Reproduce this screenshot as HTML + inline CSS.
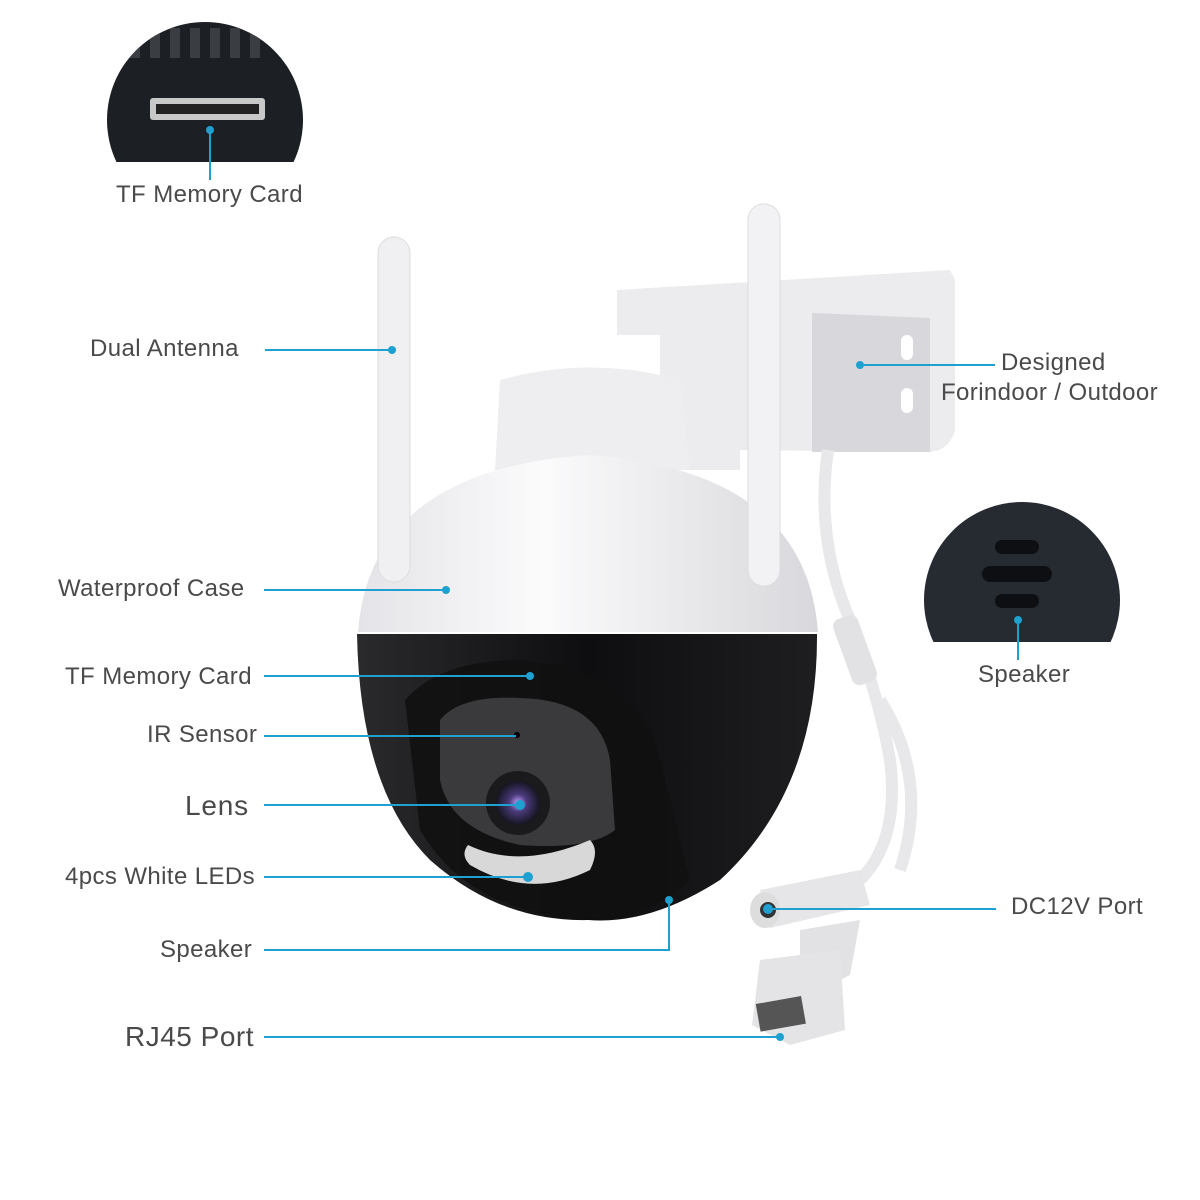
<!DOCTYPE html>
<html><head><meta charset="utf-8"><style>
html,body{margin:0;padding:0;background:#fff;}
svg{display:block}
text{font-family:"Liberation Sans",sans-serif;fill:#4a4a4a;}
</style></head><body>
<svg width="1200" height="1200" viewBox="0 0 1200 1200" xmlns="http://www.w3.org/2000/svg">
<defs>
<linearGradient id="wg" x1="0" y1="0" x2="1" y2="0"><stop offset="0" stop-color="#e4e4e8"/><stop offset="0.4" stop-color="#fbfbfc"/><stop offset="1" stop-color="#d8d8dc"/></linearGradient>
<linearGradient id="bg" x1="0" y1="0" x2="1" y2="0"><stop offset="0" stop-color="#2a2a2c"/><stop offset="0.5" stop-color="#0e0e10"/><stop offset="1" stop-color="#1e1e20"/></linearGradient>
<clipPath id="c1"><circle cx="205" cy="120" r="98"/></clipPath>
<clipPath id="c2"><circle cx="1022" cy="600" r="98"/></clipPath>
<radialGradient id="lens"><stop offset="0" stop-color="#c9a0ff"/><stop offset="0.4" stop-color="#4a3a7a"/><stop offset="1" stop-color="#151520"/></radialGradient>
</defs>
<g clip-path="url(#c1)">
<rect x="100" y="20" width="210" height="142" fill="#1c1f24"/>
<g fill="#3a3d42"><rect x="130" y="28" width="10" height="30"/><rect x="150" y="28" width="10" height="30"/><rect x="170" y="28" width="10" height="30"/><rect x="190" y="28" width="10" height="30"/><rect x="210" y="28" width="10" height="30"/><rect x="230" y="28" width="10" height="30"/><rect x="250" y="28" width="10" height="30"/></g>
<rect x="150" y="98" width="115" height="22" rx="3" fill="#c8c8c8"/>
<rect x="156" y="104" width="103" height="10" fill="#222"/>
<rect x="100" y="162" width="210" height="60" fill="#fff"/>
</g>
<g clip-path="url(#c2)">
<rect x="920" y="500" width="210" height="142" fill="#262b31"/>
<rect x="995" y="540" width="44" height="14" rx="7" fill="#0d0f12"/>
<rect x="982" y="566" width="70" height="16" rx="8" fill="#0d0f12"/>
<rect x="995" y="594" width="44" height="14" rx="7" fill="#0d0f12"/>
<rect x="920" y="642" width="210" height="60" fill="#fff"/>
</g>
<path d="M617 290 L950 270 L955 280 L955 430 Q950 450 930 452 L740 450 L740 470 L660 470 L660 335 L617 335 Z" fill="#ececee"/>
<path d="M812 313 L930 318 L930 452 L812 452 Z" fill="#d8d8dc"/>
<rect x="901" y="335" width="12" height="25" rx="6" fill="#fff"/>
<rect x="901" y="388" width="12" height="25" rx="6" fill="#fff"/>
<path d="M828 450 Q815 540 850 620 Q880 700 890 760 Q900 840 860 880" fill="none" stroke="#e8e8ea" stroke-width="12"/>
<path d="M880 700 Q930 780 900 870" fill="none" stroke="#e8e8ea" stroke-width="12"/>
<rect x="842" y="615" width="26" height="70" rx="8" fill="#e2e2e4" transform="rotate(-20 855 650)"/>
<path d="M760 890 L860 870 L870 905 L770 928 Z" fill="#e6e6e8"/>
<ellipse cx="765" cy="910" rx="15" ry="18" fill="#ddd"/>
<circle cx="768" cy="910" r="8" fill="#333"/>
<path d="M800 930 L860 920 L850 975 L800 1000 Z" fill="#e2e2e4"/>
<path d="M760 960 L840 950 L845 1030 L790 1045 L752 1025 Z" fill="#e4e4e6"/>
<rect x="758" y="1000" width="46" height="28" fill="#555" transform="rotate(-10 780 1015)"/>
<path d="M500 380 Q590 355 680 380 L690 470 L495 470 Z" fill="#eeeef0"/>
<path d="M358 632 Q370 470 588 455 Q806 470 818 632 Z" fill="url(#wg)"/>
<path d="M357 634 L817 634 Q818 790 720 880 Q650 925 588 920 Q500 922 430 860 Q360 790 357 634 Z" fill="url(#bg)"/>
<path d="M405 700 Q440 660 520 660 Q640 670 660 760 L690 880 Q650 920 588 918 Q470 915 420 830 Z" fill="#111" opacity="0.9"/>
<path d="M440 720 Q460 695 520 698 Q600 700 610 760 L615 830 Q590 850 520 845 Q450 830 440 780 Z" fill="#3a3a3c"/>
<circle cx="518" cy="803" r="32" fill="#1a1a1c"/>
<circle cx="518" cy="803" r="22" fill="url(#lens)"/>
<circle cx="517" cy="735" r="3" fill="#000"/>
<path d="M468 845 Q520 870 590 840 Q600 850 590 870 Q530 900 470 865 Q460 855 468 845 Z" fill="#d8d8d8"/>
<rect x="378" y="237" width="32" height="345" rx="16" fill="#f0f0f2" stroke="#dcdce0"/>
<rect x="748" y="204" width="32" height="382" rx="16" fill="#f2f2f4" stroke="#dcdce0"/>
<g stroke="#1ea0d0" stroke-width="2" fill="none">
<line x1="210" y1="130" x2="210" y2="180"/>
<line x1="265" y1="350" x2="392" y2="350"/>
<line x1="860" y1="365" x2="995" y2="365"/>
<line x1="264" y1="590" x2="446" y2="590"/>
<line x1="1018" y1="620" x2="1018" y2="660"/>
<line x1="264" y1="676" x2="530" y2="676"/>
<line x1="264" y1="736" x2="516" y2="736"/>
<line x1="264" y1="805" x2="520" y2="805"/>
<line x1="264" y1="877" x2="528" y2="877"/>
<polyline points="264,950 669,950 669,900"/>
<line x1="768" y1="909" x2="996" y2="909"/>
<line x1="264" y1="1037" x2="780" y2="1037"/>
</g>
<g fill="#1ea0d0">
<circle cx="210" cy="130" r="4"/><circle cx="392" cy="350" r="4"/><circle cx="860" cy="365" r="4"/>
<circle cx="446" cy="590" r="4"/><circle cx="1018" cy="620" r="4"/><circle cx="530" cy="676" r="4"/>
<circle cx="520" cy="805" r="5"/><circle cx="528" cy="877" r="5"/><circle cx="669" cy="900" r="4"/>
<circle cx="768" cy="909" r="5"/><circle cx="780" cy="1037" r="4"/>
</g>
<g font-size="24" letter-spacing="0.4">
<text x="116" y="202">TF Memory Card</text>
<text x="90" y="356">Dual Antenna</text>
<text x="1001" y="370">Designed</text>
<text x="941" y="400">Forindoor / Outdoor</text>
<text x="58" y="596">Waterproof Case</text>
<text x="978" y="682">Speaker</text>
<text x="65" y="684">TF Memory Card</text>
<text x="147" y="742">IR Sensor</text>
<text x="185" y="815" font-size="28" letter-spacing="0.8">Lens</text>
<text x="65" y="884">4pcs White LEDs</text>
<text x="160" y="957">Speaker</text>
<text x="1011" y="914">DC12V Port</text>
<text x="125" y="1046" font-size="28" letter-spacing="0.5">RJ45 Port</text>
</g>
</svg>
</body></html>
